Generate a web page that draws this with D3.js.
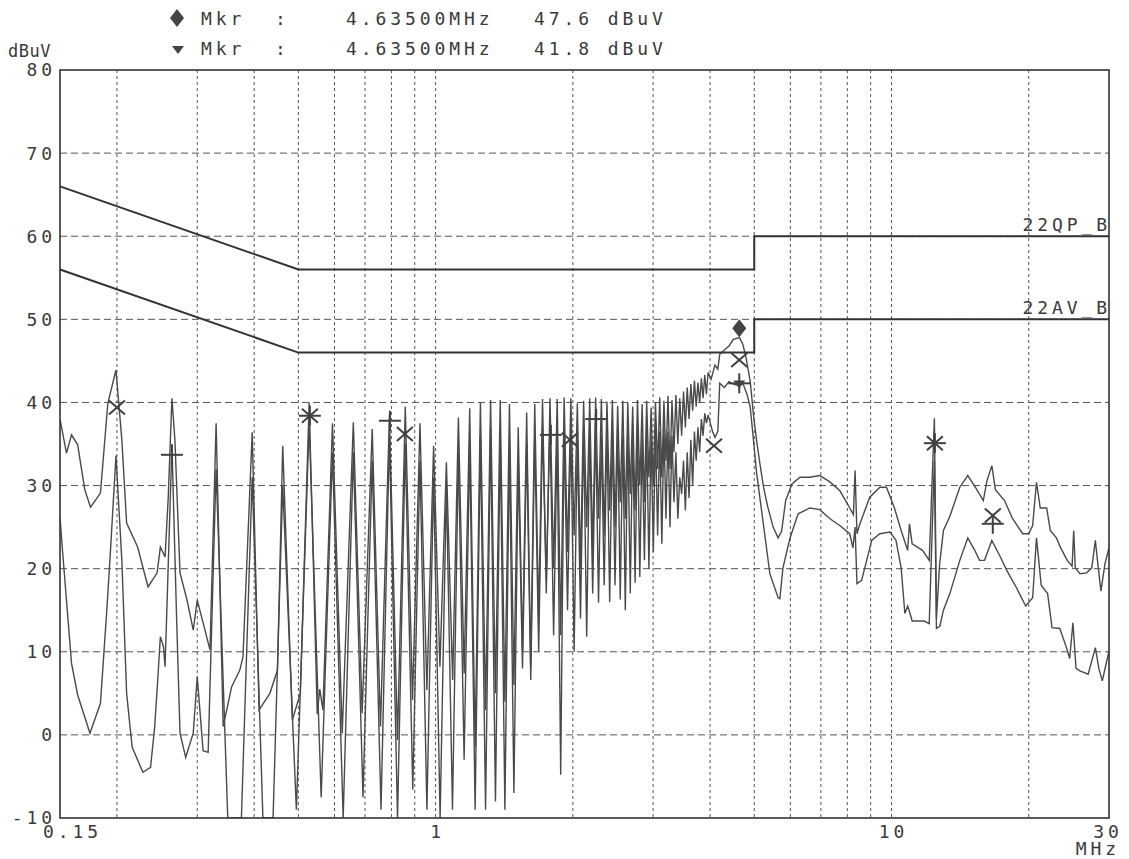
<!DOCTYPE html>
<html>
<head>
<meta charset="utf-8">
<script src="https://cdn.jsdelivr.net/npm/d3@7"></script>
<style>
  body { margin: 0; background: #fff; }
  text { font-family: "DejaVu Sans Mono", "Liberation Mono", monospace; fill: #3a3a3a; }
</style>
</head>
<body>
<div id="root"></div>
<script>
// axis ticks
const yTicks = [80, 70, 60, 50, 40, 30, 20, 10, 0, -10];
const xGridValues = [0.2, 0.3, 0.4, 0.5, 0.6, 0.7, 0.8, 0.9, 1, 2, 3, 4, 5, 6, 7, 8, 9, 10, 20];
const xTickValues = [0.15, 1, 10, 30];
const xTickText = ["0.15", "1", "10", "30"];

// limit lines (MHz, dBuV)
const qpLimit = [[0.15, 66], [0.5, 56], [5, 56], [5, 60], [30, 60]];
const avLimit = [[0.15, 56], [0.5, 46], [5, 46], [5, 50], [30, 50]];

// peak trace (MHz, dBuV)
const pkTrace = [
  [0.150,38.0],[0.155,33.9],[0.159,36.1],[0.164,34.9],[0.170,29.5],[0.175,27.4],[0.184,29.1],[0.191,39.9],
  [0.199,43.9],[0.205,35.5],[0.210,25.5],[0.222,22.6],[0.234,17.8],[0.245,19.5],[0.249,22.6],[0.255,21.4],
  [0.259,28.3],[0.264,40.5],[0.268,35.5],[0.275,19.5],[0.285,16.2],[0.294,12.6],[0.300,16.2],[0.309,13.5],[0.320,10.2],
  [0.330,37.5],[0.342,1.0],[0.357,5.8],[0.372,7.8],[0.378,9.4],
  [0.396,36.4],[0.410,3.0],[0.433,5.0],[0.450,7.8],
  [0.462,34.8],[0.485,1.8],[0.505,5.0],
  [0.528,40.0],[0.550,2.5],[0.557,5.5],[0.566,3.0],
  [0.594,37.5],[0.624,0.2],
  [0.660,37.6],[0.690,2.6],
  [0.726,36.8],[0.757,1.0],
  [0.792,38.5],[0.825,-0.6],
  [0.858,39.5],[0.890,4.2],
  [0.924,37.5],[0.957,5.4],
  [0.990,34.8],[1.022,8.2],
  [1.056,32.8],[1.090,6.6],
  [1.122,38.2],[1.155,7.4],
  [1.188,39.3],[1.221,-1.5],
  [1.254,40.0],[1.287,3.0],
  [1.320,40.3],[1.353,5.0],
  [1.386,40.3],[1.419,4.0],
  [1.452,39.8],[1.485,6.0],
  [1.518,37.0],[1.551,10.0],
  [1.584,38.8],[1.617,8.0],
  [1.650,39.8],[1.683,14.0],
  [1.716,40.4],[1.749,17.0],
  [1.782,40.5],[1.815,20.0],
  [1.848,40.4],[1.881,12.0],
  [1.914,40.6],[1.947,22.0],
  [1.980,40.5],[2.013,24.0],
  [2.046,39.9],[2.079,20.0],
  [2.112,40.2],[2.145,25.0],
  [2.178,40.5],[2.211,22.0],
  [2.244,40.6],[2.277,26.0],
  [2.310,40.4],[2.343,24.0],
  [2.376,40.1],[2.409,27.0],
  [2.442,40.3],[2.475,25.0],
  [2.508,39.6],[2.541,28.0],
  [2.574,40.2],[2.607,26.0],
  [2.640,40.0],[2.673,29.0],
  [2.706,39.5],[2.739,27.0],
  [2.772,40.3],[2.805,30.0],
  [2.838,39.8],[2.871,28.0],
  [2.904,40.2],[2.937,31.0],
  [2.970,39.4],[3.003,30.0],
  [3.036,40.0],[3.069,32.0],
  [3.102,40.6],[3.135,31.0],
  [3.168,40.2],[3.201,33.0],
  [3.234,40.8],[3.267,32.0],
  [3.300,40.3],[3.333,34.0],
  [3.366,40.9],[3.399,35.0],
  [3.432,40.5],[3.465,36.0],
  [3.498,41.3],[3.531,37.0],
  [3.564,41.8],[3.597,38.0],
  [3.630,42.2],[3.663,39.0],
  [3.696,42.6],[3.729,39.5],
  [3.762,42.4],[3.795,40.0],
  [3.828,42.9],[3.861,40.5],
  [3.894,43.3],[3.927,41.0],
  [3.960,43.6],[4.02,42.8],[4.10,44.5],[4.16,44.0],[4.20,45.8],[4.30,46.3],[4.40,46.8],[4.50,47.6],
  [4.64,47.8],[4.72,47.0],[4.80,45.3],[4.90,42.5],[4.98,38.5],[5.06,35.4],[5.15,32.5],[5.24,29.8],
  [5.35,27.5],[5.50,25.0],[5.64,23.7],[5.74,24.5],[5.86,28.2],[6.05,30.2],[6.30,31.0],[6.62,31.0],
  [6.96,31.2],[7.30,30.5],[7.70,29.4],[8.10,27.3],[8.25,26.5],[8.32,31.8],[8.40,24.2],[8.50,25.2],
  [8.96,28.6],[9.43,29.8],[9.75,29.8],[10.15,27.3],[10.50,24.6],[10.85,22.2],[10.95,25.4],[11.10,23.0],
  [11.70,22.2],[12.10,21.0],[12.42,38.1],[12.55,14.0],[12.75,20.5],[13.00,24.6],[13.43,26.3],[14.12,29.8],
  [14.70,31.2],[15.20,30.0],[15.90,28.2],[16.20,30.6],[16.60,32.4],[16.90,29.5],[17.70,28.2],[18.40,26.1],
  [19.40,24.2],[20.00,24.2],[20.40,25.2],[20.80,30.4],[21.20,27.3],[21.90,27.3],[22.30,24.6],[23.00,23.7],
  [23.50,22.5],[24.30,21.0],[24.90,20.3],[25.10,24.6],[25.30,20.1],[25.90,19.4],[26.80,19.5],[27.50,20.1],
  [28.00,23.4],[28.30,21.0],[28.80,17.3],[29.40,20.6],[30.00,22.5]
];

// average trace (MHz, dBuV)
const avTrace = [
  [0.150,26.2],[0.152,22.0],[0.159,8.6],[0.164,4.8],[0.1745,0.2],[0.184,3.8],[0.190,15.0],[0.193,21.0],
  [0.199,33.6],[0.205,21.0],[0.210,5.0],[0.216,-1.5],[0.228,-4.5],[0.237,-3.9],[0.242,1.0],[0.246,7.0],
  [0.249,11.8],[0.253,10.6],[0.255,8.2],[0.258,17.0],[0.264,35.0],[0.270,15.0],[0.275,0.2],[0.283,-2.7],
  [0.294,0.2],[0.300,7.0],[0.303,4.0],[0.309,-1.9],[0.317,-2.1],
  [0.330,32.0],[0.350,-10],[0.375,-10],
  [0.396,31.0],[0.418,-10],[0.440,-10],
  [0.462,30.0],[0.495,-9.0],
  [0.528,37.5],[0.561,-7.5],
  [0.594,34.0],[0.627,-10],
  [0.660,34.0],[0.693,-7.5],
  [0.726,33.0],[0.759,-9.0],
  [0.792,36.0],[0.825,-10],
  [0.858,35.0],[0.891,-6.6],
  [0.924,33.0],[0.957,-9.0],
  [0.990,31.0],[1.023,-10],
  [1.056,30.0],[1.089,-9.0],
  [1.122,34.0],[1.155,-3.0],
  [1.188,35.0],[1.221,-9.0],
  [1.254,36.0],[1.287,-9.0],
  [1.320,37.0],[1.353,-8.0],
  [1.386,36.0],[1.419,-9.0],
  [1.452,35.0],[1.485,-7.0],
  [1.518,33.0],[1.551,8.0],
  [1.584,35.0],[1.617,6.6],
  [1.650,36.0],[1.683,10.0],
  [1.716,37.0],[1.749,18.6],
  [1.782,37.5],[1.815,12.0],
  [1.848,36.0],[1.881,-4.8],
  [1.914,37.0],[1.947,15.0],
  [1.980,37.0],[2.013,10.0],
  [2.046,36.0],[2.079,14.0],
  [2.112,37.0],[2.145,11.8],
  [2.178,36.5],[2.211,17.0],
  [2.244,37.5],[2.277,15.9],
  [2.310,36.0],[2.343,18.0],
  [2.376,37.0],[2.409,16.0],
  [2.442,36.5],[2.475,18.0],
  [2.508,37.0],[2.541,16.3],
  [2.574,36.0],[2.607,15.0],
  [2.640,37.0],[2.673,17.0],
  [2.706,36.5],[2.739,18.3],
  [2.772,37.0],[2.805,19.0],
  [2.838,36.0],[2.871,21.0],
  [2.904,37.0],[2.937,20.0],
  [2.970,36.0],[3.003,22.0],
  [3.036,37.0],[3.069,24.0],
  [3.102,36.5],[3.135,23.0],
  [3.168,37.0],[3.201,26.0],
  [3.234,36.5],[3.267,25.0],
  [3.300,36.0],[3.333,28.0],
  [3.366,34.0],[3.399,26.0],
  [3.432,31.0],[3.465,29.0],
  [3.498,33.0],[3.531,27.0],
  [3.564,34.0],[3.597,28.5],
  [3.630,35.5],[3.663,30.0],
  [3.696,36.5],[3.729,33.0],
  [3.762,37.0],[3.795,34.0],
  [3.828,38.0],[3.861,36.0],
  [3.894,38.7],[3.927,37.5],
  [3.960,38.5],[4.05,36.5],[4.10,35.8],[4.16,36.5],[4.20,42.3],[4.30,41.8],[4.40,42.5],[4.50,42.2],
  [4.64,42.0],[4.72,42.3],[4.82,41.0],[4.90,39.4],[4.99,35.0],[5.06,31.5],[5.20,26.6],[5.41,19.4],
  [5.64,16.5],[5.69,16.4],[5.78,20.1],[5.99,23.7],[6.24,26.6],[6.62,27.3],[6.96,27.1],[7.33,26.0],
  [7.70,25.2],[8.10,24.2],[8.23,22.5],[8.32,25.0],[8.40,18.2],[8.60,18.6],[9.05,23.4],[9.43,24.2],
  [9.92,24.4],[10.23,23.4],[10.50,20.1],[10.70,14.6],[10.85,15.5],[10.93,15.0],[11.10,13.7],[11.80,13.7],
  [12.10,13.4],[12.42,33.0],[12.55,12.8],[12.77,13.1],[13.00,15.0],[13.43,17.0],[14.12,21.0],[14.70,23.7],
  [15.20,22.3],[15.60,21.0],[16.00,21.0],[16.60,23.4],[17.30,21.5],[17.90,19.8],[18.80,17.7],[19.70,15.5],
  [20.40,16.5],[20.80,23.7],[21.30,18.0],[22.00,17.0],[22.50,12.9],[23.40,12.8],[24.20,10.5],[24.60,9.2],
  [25.00,13.5],[25.40,8.0],[25.90,7.7],[27.00,7.3],[28.00,10.5],[28.50,8.0],[29.00,6.5],[30.00,10.1]
];

// final measurement markers (MHz, dBuV)
const crossMarks = [[0.200,39.4],[0.530,38.4],[0.856,36.2],[1.970,35.5],[4.08,34.8],[4.635,45.1],[12.45,35.1],[16.68,26.4]];
const plusMarks = [[0.264,33.7],[0.530,38.4],[0.794,37.8],[1.79,36.1],[2.25,38.0],[4.635,42.3],[12.45,35.1],[16.68,25.4]];

// marker readouts
const mkrFreq = [4.635, 4.635];
const mkrLevel = [47.6, 41.8];
const mkrFreqText = ["4.63500MHz", "4.63500MHz"];
const mkrLevelText = ["47.6 dBuV", "41.8 dBuV"];

const W = 1129, H = 859;
const x = d3.scaleLog().domain([0.15, 30]).range([60, 1109]);
const y = d3.scaleLinear().domain([-10, 80]).range([818, 70]);

const svg = d3.select("#root").append("svg")
  .attr("width", W).attr("height", H);

svg.append("defs").append("clipPath").attr("id", "plot")
  .append("rect")
  .attr("x", x(0.15)).attr("y", y(80))
  .attr("width", x(30) - x(0.15)).attr("height", y(-10) - y(80));

// plotter-like label style: wide monospace cells
const fs = "18px", ls = 3.9;

// grid
svg.append("g").selectAll("line")
  .data(yTicks.filter((d) => d > -10 && d < 80))
  .join("line")
  .attr("x1", x(0.15)).attr("x2", x(30))
  .attr("y1", (d) => y(d)).attr("y2", (d) => y(d))
  .attr("stroke", "#555").attr("stroke-width", 1)
  .attr("stroke-dasharray", "7,4");

svg.append("g").selectAll("line")
  .data(xGridValues)
  .join("line")
  .attr("x1", (d) => x(d)).attr("x2", (d) => x(d))
  .attr("y1", y(80)).attr("y2", y(-10))
  .attr("stroke", "#555").attr("stroke-width", 1)
  .attr("stroke-dasharray", "3,3");

// traces
const line = d3.line().x((d) => x(d[0])).y((d) => y(d[1]));
const traces = svg.append("g").attr("clip-path", "url(#plot)");
traces.append("path").datum(avTrace)
  .attr("d", line).attr("fill", "none")
  .attr("stroke", "#4a4a4a").attr("stroke-width", 1.4);
traces.append("path").datum(pkTrace)
  .attr("d", line).attr("fill", "none")
  .attr("stroke", "#4a4a4a").attr("stroke-width", 1.4);

// limits
[qpLimit, avLimit].forEach((lim) => {
  svg.append("path").datum(lim)
    .attr("d", line).attr("fill", "none")
    .attr("stroke", "#333").attr("stroke-width", 2);
});

// frame
svg.append("rect")
  .attr("x", x(0.15)).attr("y", y(80))
  .attr("width", x(30) - x(0.15)).attr("height", y(-10) - y(80))
  .attr("fill", "none").attr("stroke", "#333").attr("stroke-width", 1.6);

// markers
const marks = svg.append("g").attr("stroke", "#404040").attr("stroke-width", 2);
crossMarks.forEach((d) => {
  const g = marks.append("g").attr("transform", `translate(${x(d[0])},${y(d[1])})`);
  g.append("line").attr("x1", -8).attr("y1", -7).attr("x2", 8).attr("y2", 7);
  g.append("line").attr("x1", -8).attr("y1", 7).attr("x2", 8).attr("y2", -7);
});
plusMarks.forEach((d) => {
  const g = marks.append("g").attr("transform", `translate(${x(d[0])},${y(d[1])})`);
  g.append("line").attr("x1", -11).attr("y1", 0).attr("x2", 11).attr("y2", 0);
  g.append("line").attr("x1", 0).attr("y1", -10).attr("x2", 0).attr("y2", 10);
});

const diamond = "M0,-9L7,0L0,9L-7,0Z";
const triangle = "M-6,-4L6,-4L0,4Z";
svg.append("path").attr("d", diamond).attr("fill", "#444")
  .attr("transform", `translate(${x(mkrFreq[0])},${y(mkrLevel[0]) - 11})`);
svg.append("path").attr("d", triangle).attr("fill", "#444")
  .attr("transform", `translate(${x(mkrFreq[1])},${y(mkrLevel[1]) - 3})`);

// header readout
const rows = [25, 55];
svg.append("path").attr("d", diamond).attr("fill", "#444").attr("transform", "translate(177,18)");
svg.append("path").attr("d", triangle).attr("fill", "#444").attr("transform", "translate(178,50)");
rows.forEach((ry, i) => {
  const t = (tx, s) => svg.append("text").attr("x", tx).attr("y", ry)
    .attr("font-size", fs).attr("letter-spacing", ls).text(s);
  t(201, "Mkr");
  t(275, ":");
  t(346, mkrFreqText[i]);
  t(534, mkrLevelText[i]);
});

// y axis labels
svg.append("text").attr("x", 8).attr("y", 57)
  .attr("font-size", "17px").attr("letter-spacing", 0.5).text("dBuV");
svg.append("g").selectAll("text")
  .data(yTicks)
  .join("text")
  .attr("x", 52 + ls)
  .attr("y", (d) => y(d))
  .attr("dy", "0.36em")
  .attr("text-anchor", "end")
  .attr("font-size", fs).attr("letter-spacing", ls)
  .text((d) => d);

// x axis labels
svg.append("g").selectAll("text")
  .data(xTickValues)
  .join("text")
  .attr("x", (d, i) => (i === 0 ? x(d) - 17 : x(d) + ls / 2 - (i === 3 ? 3 : 0)))
  .attr("y", 838)
  .attr("text-anchor", (d, i) => (i === 0 ? "start" : "middle"))
  .attr("font-size", fs).attr("letter-spacing", ls)
  .text((d, i) => xTickText[i]);
svg.append("text").attr("x", 1116 + ls).attr("y", 855)
  .attr("text-anchor", "end")
  .attr("font-size", fs).attr("letter-spacing", ls).text("MHz");

// limit names
svg.append("text").attr("x", 1107 + ls).attr("y", y(60) - 5)
  .attr("text-anchor", "end").attr("font-size", fs).attr("letter-spacing", ls)
  .text("22QP_B");
svg.append("text").attr("x", 1107 + ls).attr("y", y(50) - 5)
  .attr("text-anchor", "end").attr("font-size", fs).attr("letter-spacing", ls)
  .text("22AV_B");
</script>
</body>
</html>
